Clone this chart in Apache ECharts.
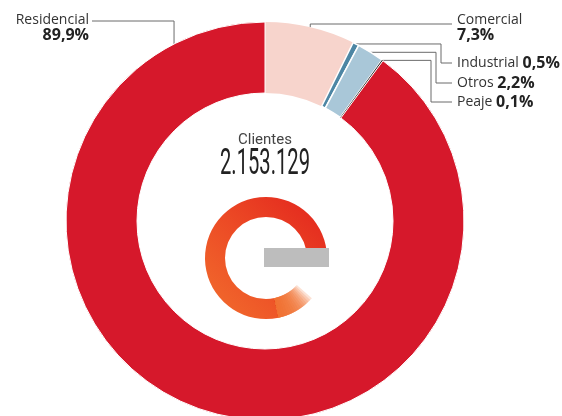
<!DOCTYPE html>
<html lang="es">
<head>
<meta charset="UTF-8">
<title>Clientes por tipo</title>
<script src="https://cdn.jsdelivr.net/npm/echarts@6/dist/echarts.min.js"></script>
<style>
  html,body{margin:0;height:100%;background:#fff;}
  #chart{width:562px;height:416px;}
</style>
</head>
<body>
<div id="chart"></div>
<script>
// datos
const categories = ['Comercial', 'Industrial', 'Otros', 'Peaje', 'Residencial'];
const shares     = [7.3, 0.5, 2.2, 0.1, 89.9];
const totalLabel = 'Clientes';
const totalValue = '2.153.129';

const colors = ['#f7d4cc', '#4d86a4', '#a9c7d8', '#1e1e1e', '#d6182b'];
const borders = [0, 1.5, 1.5, 0, 1];

const CX = 265, CY = 221, R0 = 128, R = 199;
const total = shares.reduce((a, b) => a + b, 0);

// punto del borde exterior a un ángulo (grados, desde arriba, horario)
function edge(deg) {
  const a = deg * Math.PI / 180;
  return [CX + R * Math.sin(a), CY - R * Math.cos(a)];
}
function midAngle(i) {
  let before = 0;
  for (let k = 0; k < i; k++) before += shares[k];
  return (before + shares[i] / 2) / total * 360;
}
function pct(v) { return v.toFixed(1).replace('.', ',') + '%'; }

// logo: anillo con degradado y final desvanecido (capas superpuestas)
const rad = d => d * Math.PI / 180;
const logo = [
  { type: 'sector', shape: { cx: 266, cy: 258, r: 61, r0: 41, startAngle: rad(78), endAngle: rad(360), clockwise: true },
    style: { fill: new echarts.graphic.LinearGradient(1, 0, 0, 1, [
      { offset: 0, color: '#e2231d' }, { offset: 0.5, color: '#ec4a25' }, { offset: 1, color: '#f26e2d' }]) } }
];
for (let k = 1; k <= 16; k++) {
  logo.push({ type: 'sector', shape: { cx: 266, cy: 258, r: 61, r0: 41, startAngle: rad(78 - k * 2.3), endAngle: rad(78.3), clockwise: true },
    style: { fill: '#f26e2d', opacity: 0.2 } });
}
logo.push({ type: 'rect', shape: { x: 264, y: 248, width: 65, height: 19 }, style: { fill: '#bdbdbd' } });

const chart = echarts.init(document.getElementById('chart'));

chart.setOption({
  animation: false,
  series: [{
    type: 'pie',
    silent: true,
    center: [CX, CY],
    radius: [R0, R],
    startAngle: 90,
    avoidLabelOverlap: false,
    data: categories.map((name, i) => ({
      name, value: shares[i],
      itemStyle: { color: colors[i], borderColor: '#fff', borderWidth: borders[i] }
    })),
    label: {
      show: true,
      fontFamily: 'Open Sans',
      formatter: p => {
        const two = p.dataIndex === 0 || p.dataIndex === 4;
        return '{n|' + p.name + (two ? '}\n' : ' }') + '{p|' + pct(p.value) + '}';
      },
      rich: {
        n: { fontSize: 14, color: '#333', fontFamily: 'Open Sans', lineHeight: 15 },
        p: { fontSize: 16, fontWeight: 'bold', color: '#222', fontFamily: 'Open Sans', lineHeight: 16 }
      }
    },
    labelLine: { show: true, length: 10, length2: 10, lineStyle: { color: '#6b6b6b', width: 1 } },
    labelLayout: params => {
      const i = params.dataIndex;
      const a = i === 4 ? edge(-27.2) : edge(midAngle(i));
      if (i === 4) {
        return { x: 89, y: 28, align: 'right', verticalAlign: 'middle',
          labelLinePoints: [a, [a[0], 21], [92, 21]] };
      }
      if (i === 0) {
        return { x: 457, y: 28, align: 'left', verticalAlign: 'middle',
          labelLinePoints: [a, [a[0], 24], [452, 24]] };
      }
      const ys = { 1: 63, 2: 83, 3: 102 };
      const xs = { 1: 441, 2: 436, 3: 431 };
      return { x: 457, y: ys[i], align: 'left', verticalAlign: 'middle',
        labelLinePoints: [a, [xs[i], a[1]], [xs[i], ys[i]], [452, ys[i]]] };
    }
  }],
  graphic: [
    { type: 'text', x: CX, y: 140,
      style: { text: totalLabel, font: '15px Roboto', fill: '#444', align: 'center', verticalAlign: 'middle' } },
    { type: 'text', x: CX, y: 165, scaleX: 0.56,
      style: { text: totalValue, font: '36px Roboto', fill: '#222', align: 'center', verticalAlign: 'middle' } }
  ].concat(logo)
});
</script>
</body>
</html>
